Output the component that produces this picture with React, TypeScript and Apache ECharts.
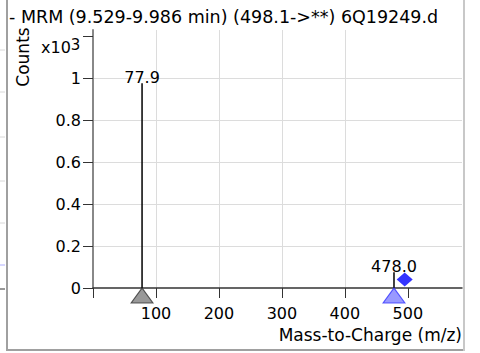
import React, { useEffect, useRef } from "react";
import * as echarts from "echarts";

const titleText = "- MRM (9.529-9.986 min) (498.1->**) 6Q19249.d";
const xAxisTitle = "Mass-to-Charge (m/z)";
const yAxisTitle = "Counts";
const xTicks = [0, 100, 200, 300, 400, 500];
const xTickLabels = [100, 200, 300, 400, 500];
const yTicks = [0, 0.2, 0.4, 0.6, 0.8, 1, 1.2];
const yTickLabels = [0, 0.2, 0.4, 0.6, 0.8, 1];
const peakMz = [77.9, 478.0];
const peakIntensity = [0.975, 0.075];
const peakLabels = ["77.9", "478.0"];
const productMarker = [[77.9, 0]];
const productMarker2 = [[478.0, 0]];
const precursorMarker = [[495, 0.04]];

const FONT = "DejaVu Sans";

export default function App() {
  const ref = useRef<HTMLDivElement>(null);
  useEffect(() => {
    if (!ref.current) return;
    const chart = echarts.init(ref.current, undefined, { renderer: "svg" });
    const peaks = peakMz.map((m, i) => [m, peakIntensity[i], peakLabels[i]]);
    const leftTicks = [50, 92, 137, 181, 223];
    chart.setOption({
      animation: false,
      backgroundColor: "#ffffff",
      grid: { left: 93, right: 18, top: 30, bottom: 65 },
      xAxis: {
        type: "value",
        min: 0,
        max: 586,
        interval: 100,
        axisLine: { show: true, onZero: false, lineStyle: { color: "#333", width: 1.5 } },
        axisTick: { show: true, inside: false, length: 10, customValues: xTicks, lineStyle: { color: "#333" } },
        axisLabel: { customValues: xTickLabels, color: "#000", fontFamily: FONT, fontSize: 16, margin: 17 },
        splitLine: { show: true, showMinLine: false, showMaxLine: false, lineStyle: { color: "#dcdcdc", width: 1 } },
      },
      yAxis: {
        type: "value",
        min: 0,
        max: 1.229,
        interval: 0.2,
        axisLine: { show: true, lineStyle: { color: "#888", width: 2 } },
        axisTick: { show: true, length: 10, customValues: yTicks, lineStyle: { color: "#333" } },
        axisLabel: {
          customValues: yTickLabels,
          color: "#000",
          fontFamily: FONT,
          fontSize: 16,
          margin: 12,
          formatter: (v: number) => String(Math.round(v * 10) / 10),
        },
        splitLine: { show: true, showMinLine: false, showMaxLine: false, lineStyle: { color: "#dcdcdc", width: 1 } },
      },
      series: [
        {
          type: "custom",
          data: peaks,
          z: 3,
          renderItem: (params: any, api: any) => {
            const x = api.value(0);
            const y = api.value(1);
            const p0 = api.coord([x, 0]);
            const p1 = api.coord([x, y]);
            return {
              type: "group",
              children: [
                {
                  type: "line",
                  shape: { x1: p0[0], y1: p0[1], x2: p1[0], y2: p1[1] },
                  style: { stroke: "#000", lineWidth: 1.5 },
                },
                {
                  type: "text",
                  x: p1[0],
                  y: p1[1] + 2,
                  style: {
                    text: peakLabels[params.dataIndex],
                    fill: "#000",
                    font: `16px ${FONT}`,
                    align: "center",
                    verticalAlign: "bottom",
                  },
                },
              ],
            };
          },
        },
        {
          type: "scatter",
          data: productMarker,
          symbol: "triangle",
          symbolSize: [22, 15],
          symbolOffset: [0, "50%"],
          itemStyle: { color: "#808080", borderColor: "#333", borderWidth: 1 },
          z: 4,
        },
        {
          type: "scatter",
          data: productMarker2,
          symbol: "triangle",
          symbolSize: [22, 15],
          symbolOffset: [0, "50%"],
          itemStyle: { color: "#8080ff", borderColor: "#3333ff", borderWidth: 1 },
          z: 4,
        },
        {
          type: "scatter",
          data: precursorMarker,
          symbol: "diamond",
          symbolSize: [16, 14],
          itemStyle: { color: "#0000ff" },
          z: 4,
        },
      ],
      graphic: [
        { type: "line", shape: { x1: 7, y1: 0, x2: 7, y2: 350 }, style: { stroke: "#a0a0a0", lineWidth: 2 } },
        { type: "line", shape: { x1: 6, y1: 350, x2: 465, y2: 350 }, style: { stroke: "#a0a0a0", lineWidth: 2 } },
        { type: "line", shape: { x1: 464, y1: 0, x2: 464, y2: 351 }, style: { stroke: "#c8c8c8", lineWidth: 2 } },
        ...leftTicks.map((yy) => ({
          type: "line",
          shape: { x1: 0, y1: yy, x2: 5, y2: yy },
          style: { stroke: "#d8d8d8", lineWidth: 1 },
        })),
        { type: "line", shape: { x1: 0, y1: 265, x2: 5, y2: 265 }, style: { stroke: "#b0b0ff", lineWidth: 1 } },
        { type: "line", shape: { x1: 0, y1: 289, x2: 5, y2: 289 }, style: { stroke: "#333", lineWidth: 1 } },
        {
          type: "text",
          x: 9,
          y: 17,
          style: { text: titleText, font: `17.5px ${FONT}`, fill: "#000", verticalAlign: "middle" },
        },
        {
          type: "text",
          x: 23,
          y: 57,
          rotation: Math.PI / 2,
          style: { text: yAxisTitle, font: `17px ${FONT}`, fill: "#000", align: "center", verticalAlign: "middle" },
        },
        {
          type: "text",
          x: 41,
          y: 46,
          style: {
            text: "{a|x10}{b|3}",
            verticalAlign: "middle",
            rich: {
              a: { font: `16px ${FONT}`, fill: "#000", verticalAlign: "bottom", lineHeight: 18 },
              b: { font: `15px ${FONT}`, fill: "#000", verticalAlign: "top", lineHeight: 18, padding: [0, 0, 8, 0] },
            },
          },
        },
        {
          type: "text",
          x: 462,
          y: 335,
          style: { text: xAxisTitle, font: `17px ${FONT}`, fill: "#000", align: "right", verticalAlign: "middle" },
        },
      ],
    });
    return () => chart.dispose();
  }, []);
  return <div ref={ref} style={{ width: 480, height: 353, position: "absolute", left: 0, top: 0 }} />;
}
